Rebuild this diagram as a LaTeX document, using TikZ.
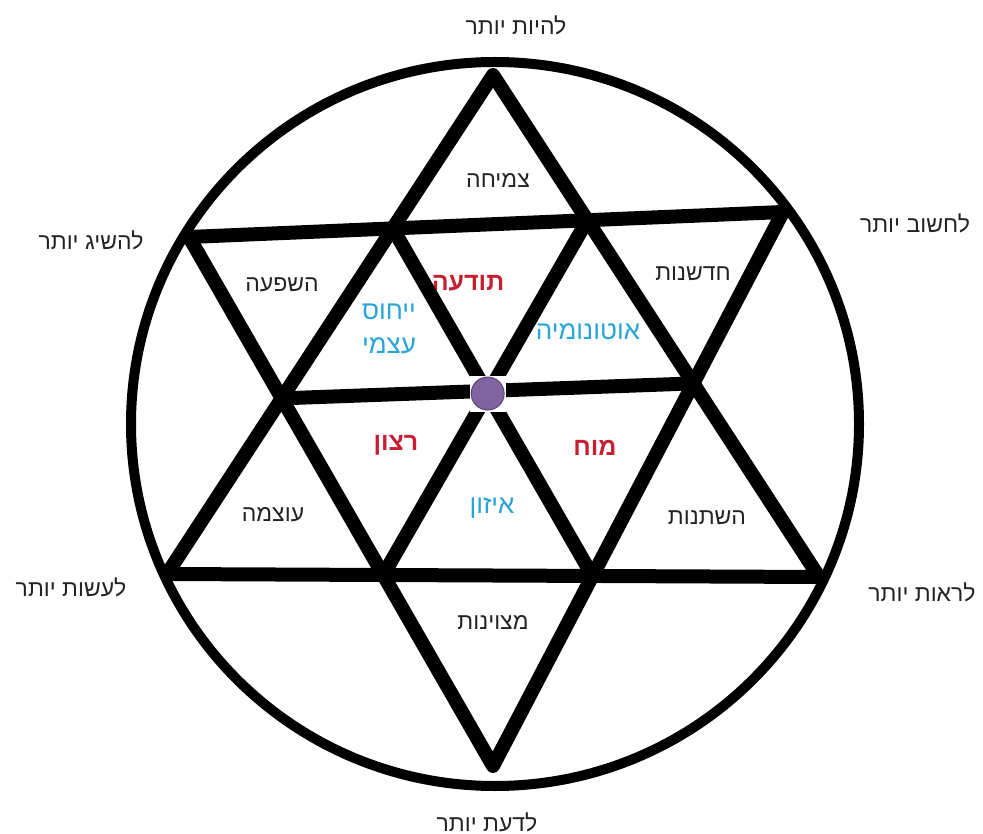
\documentclass[tikz,border=0pt]{standalone}
\usepackage{fontspec}
\newfontfamily\heb[Script=Hebrew]{Liberation Sans}
\TeXXeTstate=1
\newcommand\HB[1]{\beginR #1\endR}
\definecolor{txtgray}{RGB}{35,35,35}
\definecolor{hred}{RGB}{200,30,50}
\definecolor{hblue}{RGB}{40,165,215}
\definecolor{dotfill}{RGB}{128,100,162}
\definecolor{dotline}{RGB}{92,71,118}
\begin{document}
\begin{tikzpicture}[x=1pt,y=-1pt,
  starline/.style={line width=14pt, line join=round, line cap=round},
  ring/.style={line width=10pt},
  lbl/.style={font=\heb\fontsize{23}{26}\selectfont, text=txtgray, inner sep=0pt},
  redlbl/.style={font=\heb\bfseries\fontsize{25}{28}\selectfont, text=hred, inner sep=0pt},
  bluelbl/.style={font=\heb\fontsize{26}{34}\selectfont, text=hblue, inner sep=0pt, align=center}]
\useasboundingbox (0,0) rectangle (983,834);
\fill[white] (0,0) rectangle (983,834);
% star vertices
\coordinate (T) at (493,75);
\coordinate (BL) at (167,574);
\coordinate (BR) at (819,577);
\coordinate (UL) at (189,237);
\coordinate (UR) at (783,212);
\coordinate (B) at (493,766);
% inner hexagon
\coordinate (H1) at (intersection of T--BL and UL--UR);
\coordinate (H2) at (intersection of T--BR and UL--UR);
\coordinate (H3) at (intersection of T--BR and UR--B);
\coordinate (H4) at (intersection of BL--BR and UR--B);
\coordinate (H5) at (intersection of BL--BR and UL--B);
\coordinate (H6) at (intersection of T--BL and UL--B);
\coordinate (C) at (intersection of H1--H4 and H2--H5);
% labels
\node[lbl] (l1) at (516,25) {\HB{להיות יותר}};
\node[lbl] (l2) at (915,223) {\HB{לחשוב יותר}};
\node[lbl] (l3) at (91,240) {\HB{להשיג יותר}};
\node[lbl] (l4) at (71,587) {\HB{לעשות יותר}};
\node[lbl] (l5) at (922,592) {\HB{לראות יותר}};
\node[lbl] (l6) at (487,822) {\HB{לדעת יותר}};
\node[lbl] (p1) at (498,180) {\HB{צמיחה}};
\node[lbl] (p2) at (282,285) {\HB{השפעה}};
\node[lbl] (p3) at (693,274) {\HB{חדשנות}};
\node[lbl] (p4) at (273,515) {\HB{עוצמה}};
\node[lbl] (p5) at (707,518) {\HB{השתנות}};
\node[lbl] (p6) at (493,622) {\HB{מצוינות}};
\node[redlbl] (i1) at (468,283) {\HB{תודעה}};
\node[redlbl] (i2) at (396,445) {\HB{רצון}};
\node[redlbl] (i3) at (595,448) {\HB{מוח}};
\node[bluelbl] (i4) at (389,329) {\HB{ייחוס}\\\HB{עצמי}};
\node[bluelbl] (i5) at (588,332) {\HB{אוטונומיה}};
\node[bluelbl] (i6) at (492,508) {\HB{איזון}};
% circle
\draw[ring] (495,424) ellipse [x radius=364, y radius=362];
% star
\draw[starline] (T) -- (BL) -- (BR) -- cycle;
\draw[starline] (UL) -- (UR) -- (B) -- cycle;
\draw[starline] (H1) -- (H4);
\draw[starline] (H2) -- (H5);
\draw[starline] (H6) -- (H3);
% centre dot
\node[fill=white, minimum size=36pt, inner sep=0pt] (sq) at (C) {};
\node[circle, fill=dotfill, draw=dotline, line width=1pt, minimum size=33pt, inner sep=0pt] (dot) at (C) {};
\end{tikzpicture}
\end{document}
